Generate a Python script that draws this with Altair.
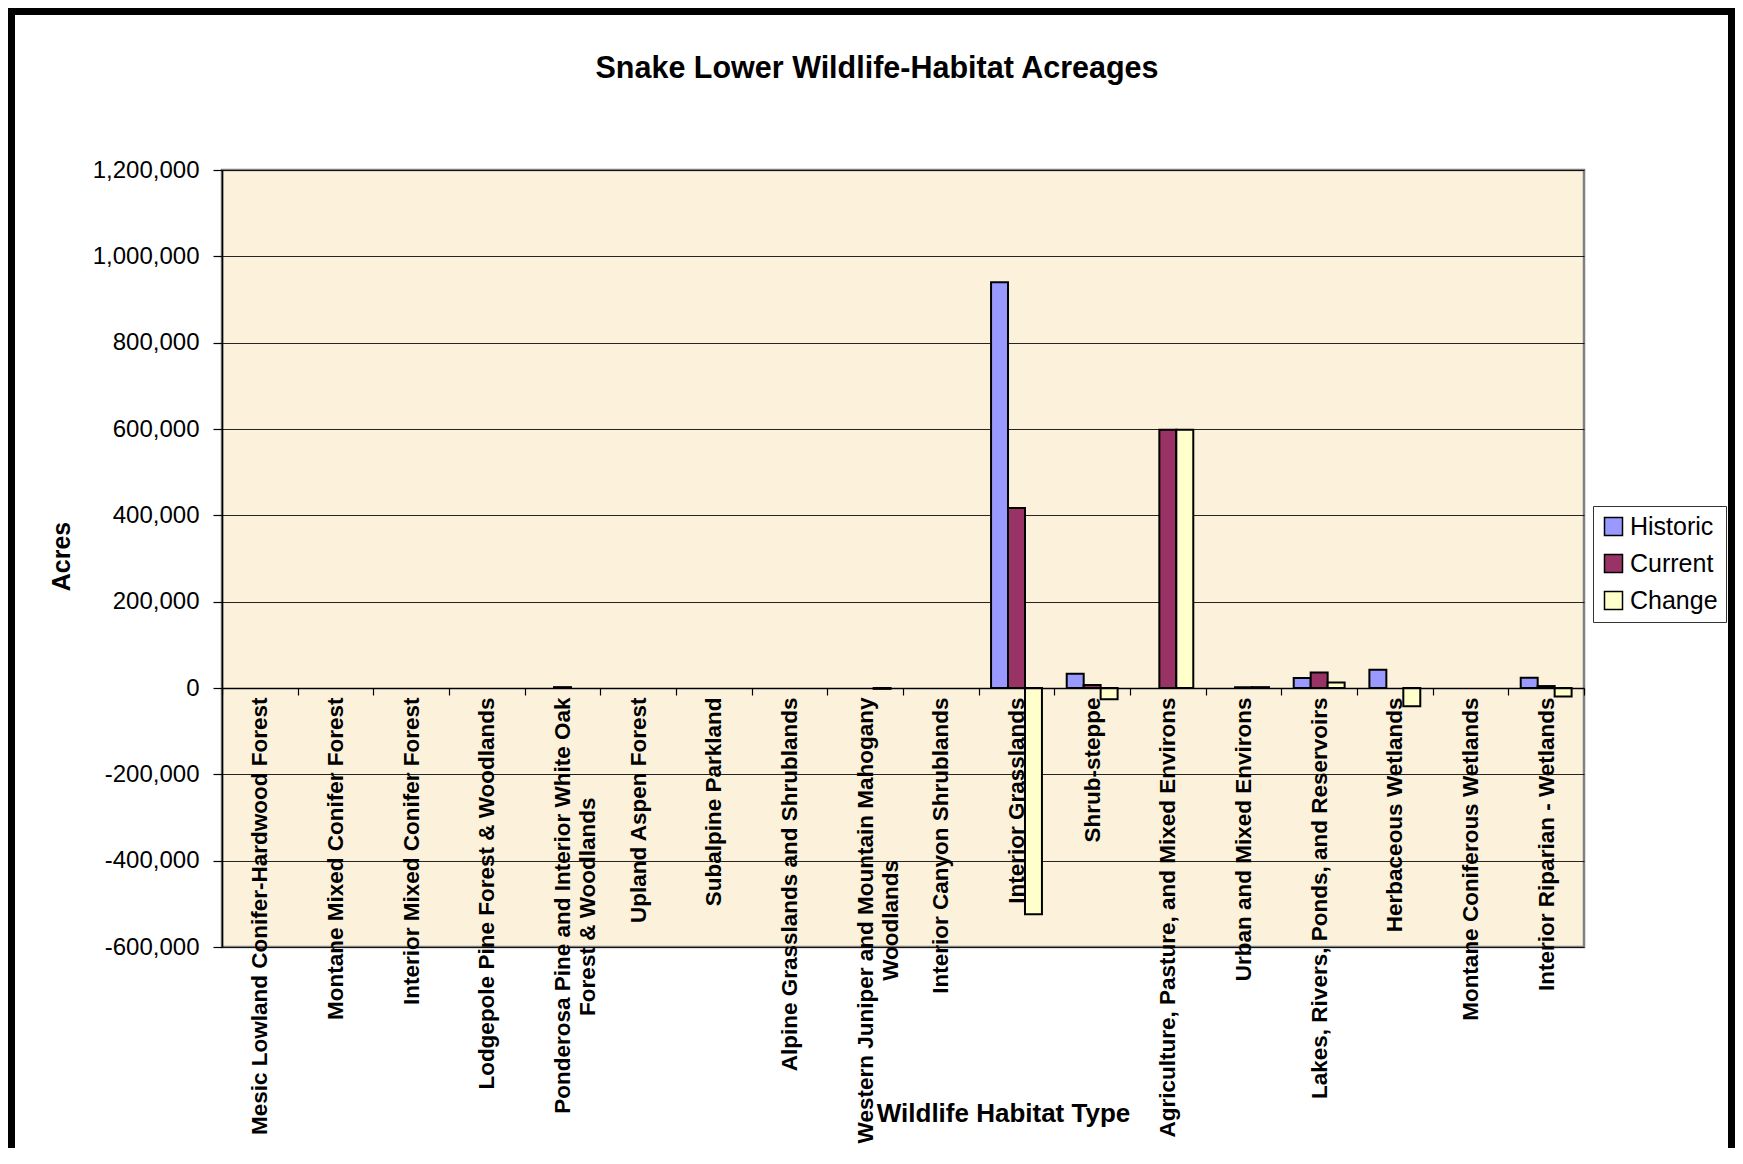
import altair as alt
import pandas as pd

FONT = "Liberation Sans"

categories = [
    "Mesic Lowland Conifer-Hardwood Forest",
    "Montane Mixed Conifer Forest",
    "Interior Mixed Conifer Forest",
    "Lodgepole Pine Forest & Woodlands",
    "Ponderosa Pine and Interior White Oak Forest & Woodlands",
    "Upland Aspen Forest",
    "Subalpine Parkland",
    "Alpine Grasslands and Shrublands",
    "Western Juniper and Mountain Mahogany Woodlands",
    "Interior Canyon Shrublands",
    "Interior Grasslands",
    "Shrub-steppe",
    "Agriculture, Pasture, and Mixed Environs",
    "Urban and Mixed Environs",
    "Lakes, Rivers, Ponds, and Reservoirs",
    "Herbaceous Wetlands",
    "Montane Coniferous Wetlands",
    "Interior Riparian - Wetlands",
]
historic = [0, 0, 0, 0, 0, 0, 0, 0, 0, 0, 940000, 33000, 0, 0, 23000, 42000, 0, 24000]
current = [0, 0, 0, 0, 2000, 0, 0, 0, 0, 0, 417000, 7000, 598000, 2000, 36000, 0, 0, 4500]
change = [0, 0, 0, 0, 0, 0, 0, 0, -2000, 0, -524000, -26000, 598000, 2000, 13000, -42000, 0, -19500]

series_names = ["Historic", "Current", "Change"]
series_colors = ["#9999FF", "#993366", "#FFFFCC"]
y_ticks = [-600000, -400000, -200000, 0, 200000, 400000, 600000, 800000, 1000000, 1200000]

# wrapped axis labels (second line centred under the first, as in the original);
# non-breaking spaces push the line, a zero-width space keeps them from being trimmed
NB, ZW = "\u00a0", "\u200b"
wrapped = {
    "Ponderosa Pine and Interior White Oak Forest & Woodlands":
        ["Ponderosa Pine and Interior White Oak", "Forest & Woodlands" + NB * 16 + ZW],
    "Western Juniper and Mountain Mahogany Woodlands":
        ["Western Juniper and Mountain Mahogany", "Woodlands" + NB * 26 + ZW],
}

rows = []
for name, vals in zip(series_names, [historic, current, change]):
    for c, v in zip(categories, vals):
        rows.append({"habitat": c, "series": name, "acres": v})
df = pd.DataFrame(rows)

W, H = 1362, 777
PAD_L, PAD_T, PAD_R, PAD_B = 214, 162, 151, 201
zero_y = H * (1200000 / 1800000)
x_offset = -(H - zero_y)

label_expr = ""
for full, lines in wrapped.items():
    label_expr += "datum.value == '%s' ? ['%s', '%s'] : " % (full, lines[0], lines[1])
label_expr += "datum.value"

bars = alt.Chart(df).transform_filter("datum.acres != 0").mark_bar(
    stroke="black", strokeWidth=2
).encode(
    x=alt.X(
        "habitat:N",
        scale=alt.Scale(domain=categories, paddingInner=0, paddingOuter=0),
        axis=alt.Axis(
            title="Wildlife Habitat Type",
            titleFont=FONT, titleFontSize=26, titleFontWeight="bold", titleColor="black",
            titleX=781, titleY=943 - zero_y, titleAlign="center", titleBaseline="middle", titleAngle=0,
            labelAngle=270, labelExpr=label_expr, labelLimit=1000,
            labelFont=FONT, labelFontSize=22.5, labelFontWeight="bold", labelColor="black",
            labelLineHeight=25, labelPadding=2,
            offset=x_offset, domainColor="black", domainWidth=1.5,
            ticks=True, tickColor="black", tickSize=7, tickWidth=1.2, tickBand="extent",
            grid=False, zindex=1,
        ),
    ),
    xOffset=alt.XOffset(
        "series:N",
        scale=alt.Scale(domain=series_names, paddingInner=0, paddingOuter=0.73),
    ),
    y=alt.Y(
        "acres:Q",
        scale=alt.Scale(domain=[-600000, 1200000], nice=False, zero=False),
        axis=alt.Axis(
            title="Acres",
            titleFont=FONT, titleFontSize=25, titleFontWeight="bold", titleColor="black",
            titleX=-161, titleY=386, titleAngle=270, titleAlign="center", titleBaseline="middle",
            values=y_ticks,
            labelExpr="(datum.value < 0 ? '-' : '') + format(abs(datum.value), ',')",
            labelFont=FONT, labelFontSize=24, labelColor="black", labelPadding=14,
            domainColor="black", domainWidth=1.5,
            tickColor="black", tickSize=9, tickWidth=1.2,
            grid=True, gridColor="black", gridWidth=1, gridOpacity=0.85,
        ),
    ),
    fill=alt.Fill(
        "series:N",
        scale=alt.Scale(domain=series_names, range=series_colors),
        legend=alt.Legend(
            title=None, orient="none", legendX=1371, legendY=336,
            fillColor="white", strokeColor="#333333", padding=8,
            labelFont=FONT, labelFontSize=25, labelColor="black", labelOffset=4,
            symbolType="square", symbolSize=324, symbolStrokeColor="black",
            symbolStrokeWidth=1.5, symbolOpacity=1, rowPadding=11,
        ),
    ),
)

one = pd.DataFrame({"k": [0]})
frame = alt.Chart(one).mark_rect(fillOpacity=0, stroke="black", strokeWidth=7).encode(
    x=alt.value(-PAD_L + 3.5), x2=alt.value(W + PAD_R - 3.5),
    y=alt.value(-PAD_T + 3.5), y2=alt.value(H + PAD_B + 20),
)
title = alt.Chart(one).mark_text(
    text="Snake Lower Wildlife-Habitat Acreages", font=FONT, fontSize=30.5,
    fontWeight="bold", color="black", align="center", baseline="middle",
).encode(x=alt.value(655), y=alt.value(-101))

chart = alt.layer(frame, title, bars).properties(
    width=W, height=H,
    padding={"left": PAD_L, "top": PAD_T, "right": PAD_R, "bottom": PAD_B},
    autosize=alt.AutoSizeParams(type="none"),
    background="white",
).configure_view(fill="#FCF2DC", stroke="#808080", strokeWidth=2.5)

chart.save("out.html", embed_options={"renderer": "svg", "actions": False})
